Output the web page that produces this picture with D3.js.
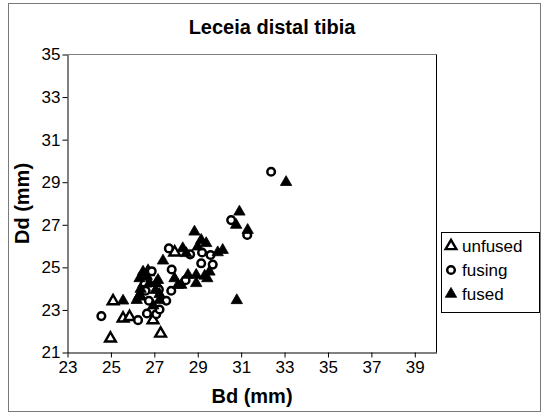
<!DOCTYPE html>
<html>
<head>
<meta charset="utf-8">
<script src="https://cdn.jsdelivr.net/npm/d3@7"></script>
<style>
  html, body { margin: 0; padding: 0; background: #fff; }
  svg { display: block; font-family: "Liberation Sans", Arial, Helvetica, sans-serif; }
</style>
</head>
<body>
<svg id="chart" width="544" height="416"></svg>
<script>
// Distal tibia measurements (Bd = breadth, Dd = depth, mm), by fusion stage
const unfusedBd = [24.98, 25.10, 25.56, 25.86, 26.94, 27.29, 27.94, 26.71, 26.55, 26.33];
const unfusedDd = [21.66, 23.41, 22.60, 22.67, 22.52, 21.89, 25.70, 24.79, 24.26, 23.65];

const fusingBd = [24.56, 26.25, 26.66, 27.09, 26.75, 27.24, 27.55, 27.78, 27.21, 26.60,
                  26.88, 27.80, 27.67, 28.65, 28.44, 29.16, 29.20, 29.69, 29.59, 30.54,
                  31.28, 32.38];
const fusingDd = [22.71, 22.52, 22.83, 22.80, 23.43, 23.02, 23.43, 23.90, 23.96, 23.90,
                  24.82, 24.90, 25.89, 25.61, 24.40, 25.19, 25.70, 25.13, 25.58, 27.22,
                  26.52, 29.49];

const fusedBd = [25.56, 26.19, 26.32, 26.37, 26.48, 26.65, 26.78, 27.06, 27.17, 27.40,
                 27.93, 28.09, 28.31, 28.47, 28.55, 28.93, 28.93, 28.85, 29.16, 29.39,
                 29.00, 29.54, 29.44, 29.92, 30.15, 30.92, 30.77, 31.30, 30.80, 33.07,
                 26.32, 27.24, 28.24, 27.09, 29.32, 27.24, 26.95];
const fusedDd = [23.43, 23.46, 23.70, 23.98, 24.79, 24.59, 24.26, 23.93, 24.40, 25.31,
                 24.48, 24.17, 25.89, 25.66, 24.64, 24.64, 24.25, 26.67, 26.28, 26.13,
                 25.97, 24.79, 24.48, 25.70, 25.81, 27.61, 26.99, 26.75, 23.45, 29.00,
                 24.48, 23.74, 24.17, 24.25, 24.60, 23.46, 23.20];

const xTicks = [23, 25, 27, 29, 31, 33, 35, 37, 39];
const yTicks = [21, 23, 25, 27, 29, 31, 33, 35];
const seriesNames = ["unfused", "fusing", "fused"];

const title = "Leceia distal tibia";
const xTitle = "Bd (mm)";
const yTitle = "Dd (mm)";

const svg = d3.select("#chart");

// outer chart frame
svg.append("rect")
  .attr("x", 8.5).attr("y", 3.5)
  .attr("width", 532).attr("height", 408)
  .attr("fill", "#fff").attr("stroke", "#7a7a7a").attr("stroke-width", 1);

const plot = { left: 67.5, top: 54.5, right: 436.5, bottom: 352.5 };

const x = d3.scaleLinear().domain([23, 40]).range([plot.left, plot.right]);
const y = d3.scaleLinear().domain([21, 35]).range([plot.bottom, plot.top]);

// plot area border: grey top, black right
svg.append("line")
  .attr("x1", plot.left).attr("x2", plot.right)
  .attr("y1", plot.top).attr("y2", plot.top)
  .attr("stroke", "#808080").attr("stroke-width", 1);
svg.append("line")
  .attr("x1", plot.right).attr("x2", plot.right)
  .attr("y1", plot.top).attr("y2", plot.bottom)
  .attr("stroke", "#000").attr("stroke-width", 1);

// axes
const xAxis = d3.axisBottom(x).tickValues(xTicks).tickSize(5).tickSizeOuter(0).tickPadding(3);
const yAxis = d3.axisLeft(y).tickValues(yTicks).tickSize(5).tickSizeOuter(0).tickPadding(2);

const gx = svg.append("g").attr("transform", `translate(0,${plot.bottom})`).call(xAxis);
const gy = svg.append("g").attr("transform", `translate(${plot.left},0)`).call(yAxis);
[gx, gy].forEach(g => {
  g.select(".domain").attr("stroke", "#000");
  g.selectAll(".tick line").attr("stroke", "#000");
  g.selectAll(".tick text").attr("fill", "#000")
    .style("font-size", "17px")
    .style("font-family", "'Liberation Sans', Arial, sans-serif");
});

// markers
const triFilled = d3.symbol().type(d3.symbolTriangle).size(56)();
const triOpen = d3.symbol().type(d3.symbolTriangle).size(50)();

function drawMarker(g, kind, cx, cy) {
  if (kind === "fusing") {
    g.append("circle").attr("cx", cx).attr("cy", cy).attr("r", 3.8)
      .attr("fill", "#fff").attr("stroke", "#000").attr("stroke-width", 2.5);
  } else if (kind === "unfused") {
    g.append("path").attr("d", triOpen).attr("transform", `translate(${cx},${cy})`)
      .attr("fill", "#fff").attr("stroke", "#000").attr("stroke-width", 2.4);
  } else {
    g.append("path").attr("d", triFilled).attr("transform", `translate(${cx},${cy})`)
      .attr("fill", "#000").attr("stroke", "#000").attr("stroke-width", 0.8);
  }
}

function drawSeries(bd, dd, kind) {
  const g = svg.append("g");
  bd.forEach((v, i) => drawMarker(g, kind, x(v), y(dd[i])));
}
drawSeries(unfusedBd, unfusedDd, "unfused");
drawSeries(fusingBd, fusingDd, "fusing");
drawSeries(fusedBd, fusedDd, "fused");

// titles
svg.append("text")
  .attr("x", 272).attr("y", 34)
  .attr("text-anchor", "middle")
  .style("font-size", "20px").style("font-weight", "bold")
  .text(title);

svg.append("text")
  .attr("x", (plot.left + plot.right) / 2).attr("y", 403)
  .attr("text-anchor", "middle")
  .style("font-size", "20px").style("font-weight", "bold")
  .text(xTitle);

svg.append("text")
  .attr("transform", `translate(29,${(plot.top + plot.bottom) / 2}) rotate(-90)`)
  .attr("text-anchor", "middle")
  .style("font-size", "20px").style("font-weight", "bold")
  .text(yTitle);

// legend
const lg = svg.append("g");
lg.append("rect")
  .attr("x", 441.5).attr("y", 232.5)
  .attr("width", 98).attr("height", 80)
  .attr("fill", "#fff").attr("stroke", "#000").attr("stroke-width", 1);

seriesNames.forEach((name, i) => {
  const cy = 246 + i * 24;
  drawMarker(lg, name, 451, cy);
  lg.append("text")
    .attr("x", 462).attr("y", cy + 6)
    .style("font-size", "17px")
    .text(name);
});
</script>
</body>
</html>
